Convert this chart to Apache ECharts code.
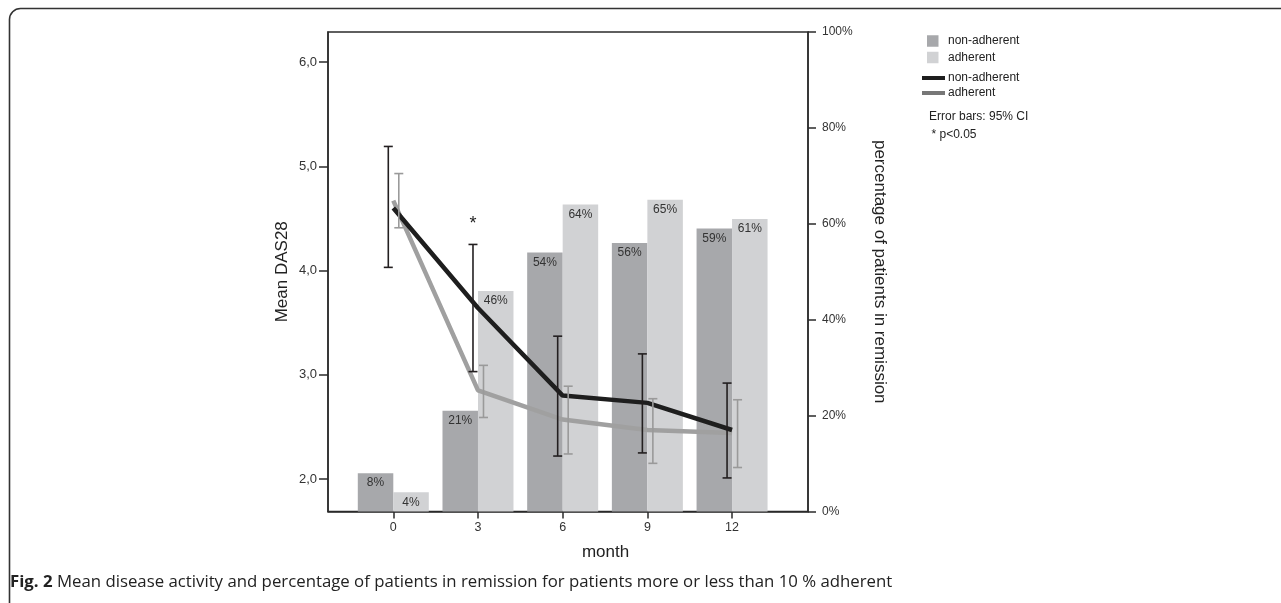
<!DOCTYPE html>
<html><head><meta charset="utf-8">
<script src="https://cdn.jsdelivr.net/npm/echarts@6/dist/echarts.min.js"></script>
<style>html,body{margin:0;padding:0;background:#fff}#c{width:1281px;height:603px}</style>
</head><body><div id="c"></div>
<script>
var months = [0, 3, 6, 9, 12];
var monthLabels = ['0', '3', '6', '9', '12'];
var remissionNon = [8, 21, 54, 56, 59];
var remissionAdh = [4, 46, 64, 65, 61];
var dasNon = [4.60, 3.64, 2.80, 2.73, 2.47];
var dasNonLow = [4.03, 3.03, 2.22, 2.25, 2.01];
var dasNonHigh = [5.19, 4.25, 3.37, 3.20, 2.92];
var dasAdh = [4.67, 2.85, 2.57, 2.47, 2.44];
var dasAdhLow = [4.41, 2.59, 2.24, 2.15, 2.11];
var dasAdhHigh = [4.93, 3.09, 2.89, 2.77, 2.76];
var significance = ['', '*', '', '', ''];
var leftTicks = [2, 3, 4, 5, 6];
var displayNames = {
  'bar-non': 'non-adherent', 'bar-adh': 'adherent',
  'line-non': 'non-adherent', 'line-adh': 'adherent'
};

var FONT = '"Liberation Sans", Arial, Helvetica, sans-serif';
var AX = '#2b2b2b';

function pairs(xs, ys) { return xs.map(function (x, i) { return [x, ys[i]]; }); }
function ciData(lo, hi) { return months.map(function (m, i) { return [m, lo[i], hi[i]]; }); }

function errorBar(color, offset, withSig) {
  return function (params, api) {
    var x = api.value(0), lo = api.value(1), hi = api.value(2);
    var t = api.coord([x, hi]), b = api.coord([x, lo]);
    var cx = t[0] + offset, w = 4.5;
    var st = { stroke: color, lineWidth: 1.6 };
    var ch = [
      { type: 'line', shape: { x1: cx, y1: t[1], x2: cx, y2: b[1] }, style: st },
      { type: 'line', shape: { x1: cx - w, y1: t[1], x2: cx + w, y2: t[1] }, style: st },
      { type: 'line', shape: { x1: cx - w, y1: b[1], x2: cx + w, y2: b[1] }, style: st }
    ];
    if (withSig && significance[params.dataIndex]) {
      ch.push({ type: 'text', x: cx, y: t[1] - 20, style: {
        text: significance[params.dataIndex], fill: '#222', font: '18px ' + FONT,
        textAlign: 'center', textVerticalAlign: 'middle' } });
    }
    return { type: 'group', children: ch };
  };
}

var chart = echarts.init(document.getElementById('c'), null, { renderer: 'canvas' });
chart.setOption({
  animation: false,
  backgroundColor: '#fff',
  textStyle: { fontFamily: FONT },
  grid: { left: 328, right: 473, top: 32, bottom: 91.5, show: true, borderColor: AX, borderWidth: 1.5, backgroundColor: 'transparent' },
  legend: [
    { orient: 'vertical', left: 922, top: 30, itemWidth: 11.5, itemHeight: 11.5, itemGap: 4.5, icon: 'rect',
      data: ['bar-non', 'bar-adh'], formatter: function (n) { return displayNames[n]; },
      textStyle: { fontSize: 12, color: '#222', padding: [0, 0, 0, 4.5], fontFamily: FONT }, selectedMode: false },
    { orient: 'vertical', left: 917, top: 67, itemWidth: 23, itemHeight: 4, itemGap: 3, icon: 'rect',
      data: [{ name: 'line-non', itemStyle: { color: '#1e1e1e' } }, { name: 'line-adh', itemStyle: { color: '#777' } }],
      formatter: function (n) { return displayNames[n]; },
      textStyle: { fontSize: 12, color: '#222', padding: [0, 0, 0, -2], fontFamily: FONT }, selectedMode: false }
  ],
  xAxis: {
    type: 'value', min: -2.313, max: 14.69,
    splitLine: { show: false },
    axisLine: { show: true, onZero: false, lineStyle: { color: AX, width: 1.5 } },
    axisTick: { show: true, customValues: months, length: 7, lineStyle: { color: AX, width: 1.5 } },
    axisLabel: { customValues: months, formatter: function (v) { return monthLabels[months.indexOf(v)]; },
      fontSize: 12.5, color: '#333', margin: 10 },
    name: 'month', nameLocation: 'middle', nameGap: 32,
    nameTextStyle: { fontSize: 17, color: '#222', padding: [0, 0, 0, 75] }
  },
  yAxis: [
    { type: 'value', position: 'left', min: 1.688, max: 6.288,
      splitLine: { show: false },
      axisLine: { show: true, onZero: false, lineStyle: { color: AX, width: 1.5 } },
      axisTick: { show: true, customValues: leftTicks, length: 9, lineStyle: { color: AX, width: 1.5 } },
      axisLabel: { customValues: leftTicks, formatter: function (v) { return v.toFixed(1).replace('.', ','); },
        fontSize: 13, color: '#333', margin: 11 },
      name: 'Mean DAS28', nameLocation: 'middle', nameGap: 37, nameRotate: 90,
      nameTextStyle: { fontSize: 17, color: '#222' } },
    { type: 'value', position: 'right', min: 0, max: 100, interval: 20,
      splitLine: { show: false },
      axisLine: { show: true, onZero: false, lineStyle: { color: AX, width: 1.5 } },
      axisTick: { show: true, length: 8, lineStyle: { color: AX, width: 1.5 } },
      axisLabel: { formatter: '{value}%', fontSize: 12, color: '#333', margin: 14 },
      name: 'percentage of patients in remission', nameLocation: 'middle', nameGap: 63, nameRotate: -90,
      nameTextStyle: { fontSize: 17, color: '#222' } }
  ],
  series: [
    { name: 'bar-non', type: 'bar', yAxisIndex: 1, barWidth: 35.5, barGap: '0%',
      data: pairs(months, remissionNon), itemStyle: { color: '#a7a8ab' },
      label: { show: true, position: 'insideTop', distance: 4, color: '#333', fontSize: 12,
        formatter: function (p) { return p.value[1] + '%'; } } },
    { name: 'bar-adh', type: 'bar', yAxisIndex: 1, barWidth: 35.5, barGap: '0%',
      data: pairs(months, remissionAdh), itemStyle: { color: '#d1d2d4' },
      label: { show: true, position: 'insideTop', distance: 4, color: '#333', fontSize: 12,
        formatter: function (p) { return p.value[1] + '%'; } } },
    { name: 'line-adh', type: 'line', yAxisIndex: 0, data: pairs(months, dasAdh), showSymbol: false, symbol: 'none',
      lineStyle: { color: '#a0a0a0', width: 4.5 }, itemStyle: { color: '#a0a0a0' }, z: 3 },
    { name: 'line-non', type: 'line', yAxisIndex: 0, data: pairs(months, dasNon), showSymbol: false, symbol: 'none',
      lineStyle: { color: '#1e1e1e', width: 4.5 }, itemStyle: { color: '#1e1e1e' }, z: 4 },
    { name: 'ci-adh', type: 'custom', yAxisIndex: 0, data: ciData(dasAdhLow, dasAdhHigh),
      encode: { x: 0, y: [1, 2] }, renderItem: errorBar('#9a9a9a', 5.5, false), z: 5 },
    { name: 'ci-non', type: 'custom', yAxisIndex: 0, data: ciData(dasNonLow, dasNonHigh),
      encode: { x: 0, y: [1, 2] }, renderItem: errorBar('#231f20', -5, true), z: 6 }
  ],
  graphic: [
    { type: 'rect', shape: { x: 9.5, y: 8.5, width: 1500, height: 800, r: 11 },
      style: { stroke: '#333', lineWidth: 1.6, fill: 'none' }, silent: true, z: -10 },
    { type: 'text', left: 929, top: 111, style: { text: 'Error bars: 95% CI', fill: '#222', font: '12px ' + FONT } },
    { type: 'text', left: 931.5, top: 129, style: { text: '* p<0.05', fill: '#222', font: '12px ' + FONT } },
    { type: 'text', left: 10, top: 574, style: {
      text: '{b|Fig. 2} Mean disease activity and percentage of patients in remission for patients more or less than 10 % adherent',
      rich: { b: { fontWeight: 'bold', fontSize: 16.8, fontFamily: '"Open Sans", sans-serif', fill: '#222' } },
      fill: '#222', fontSize: 16.8, fontFamily: '"Open Sans", sans-serif' } }
  ]
});
</script></body></html>
